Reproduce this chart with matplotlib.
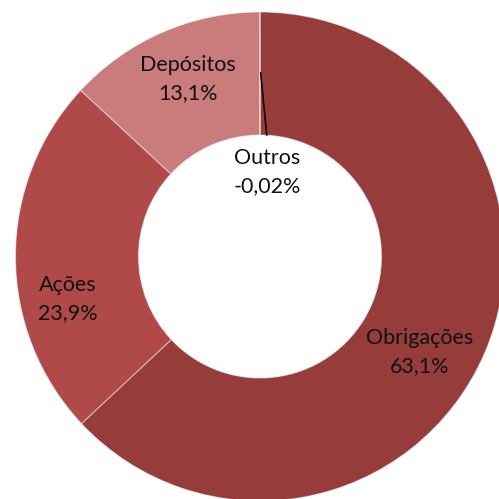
import matplotlib
matplotlib.use("Agg")
import matplotlib.pyplot as plt

# ---- data ----
categories = ["Obrigações", "Ações", "Depósitos", "Outros"]
values = [63.1, 23.9, 13.1, -0.02]
value_labels = ["63,1%", "23,9%", "13,1%", "-0,02%"]

# ---- style / layout ----
colors = ["#963d3c", "#b04a48", "#c97c7b", "#8a3533"]
CX, CY, R = 260.0, 256.5, 244.5  # pixel centre and outer radius
W = H = 499

def px(x, y):
    return (x - CX) / R, (CY - y) / R

label_px = {
    "Obrigações": (420, 352),
    "Ações": (68, 299),
    "Depósitos": (188, 79),
    "Outros": (267, 172),
}

plt.rcParams['font.family'] = ['Lato', 'DejaVu Sans']

fig = plt.figure(figsize=(W / 100, H / 100), dpi=100)
ax = fig.add_axes([0, 0, 1, 1])

sizes = [abs(v) for v in values]
ax.pie(sizes, colors=colors, startangle=90, counterclock=False, radius=1,
       wedgeprops=dict(width=0.503, edgecolor=(1, 1, 1, 0.45), linewidth=0.8))

ax.set_aspect("auto")
ax.set_xlim(px(0, 0)[0], px(W, 0)[0])
ax.set_ylim(px(0, H)[1], px(0, 0)[1])
ax.axis("off")

for cat, vl in zip(categories, value_labels):
    x, y = px(*label_px[cat])
    ax.text(x, y, f"{cat}\n{vl}", ha="center", va="center", fontsize=15.5,
            color="#111111", linespacing=1.5)

# leader line for Outros
x0, y0 = px(260.7, 72.7)
x1, y1 = px(266.7, 135)
ax.plot([x0, x1], [y0, y1], color="black", lw=1.1)

fig.savefig("out.png", dpi=100)
